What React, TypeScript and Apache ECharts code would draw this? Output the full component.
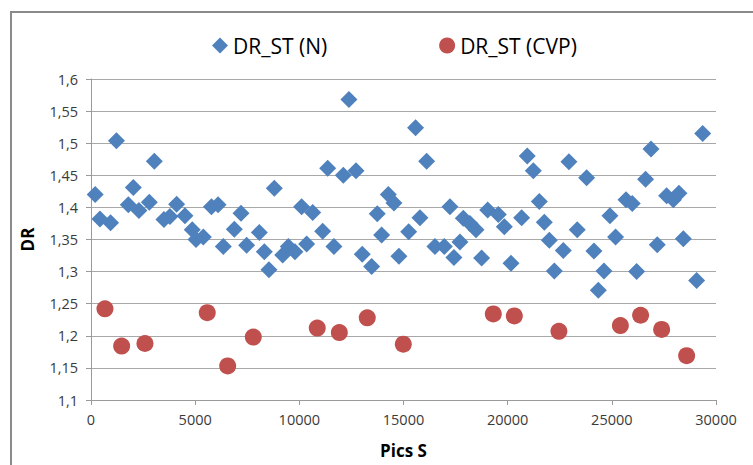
import React, { useEffect, useRef } from "react";
import * as echarts from "echarts";

const nSeriesName = "DR_ST (N)";
const cvpSeriesName = "DR_ST (CVP)";
const xTitle = "Pics S";
const yTitle = "DR";

const nX = [200, 430, 940, 1220, 1790, 2030, 2300, 2800, 3040, 3500, 3790, 4110, 4510, 4860, 5040, 5390, 5780, 6100, 6350, 6880, 7200, 7470, 8080, 8320, 8540, 8800, 9200, 9470, 9790, 10110, 10350, 10640, 11120, 11360, 11660, 12110, 12380, 12720, 13020, 13470, 13740, 13950, 14270, 14540, 14780, 15250, 15580, 15790, 16110, 16510, 16960, 17230, 17420, 17710, 17870, 18190, 18480, 18750, 19040, 19550, 19840, 20160, 20670, 20940, 21230, 21520, 21760, 22000, 22240, 22670, 22940, 23340, 23790, 24140, 24350, 24620, 24910, 25180, 25680, 25980, 26190, 26620, 26880, 27180, 27630, 27950, 28220, 28430, 29070, 29360];
const nY = [1.42, 1.382, 1.376, 1.504, 1.404, 1.431, 1.395, 1.408, 1.472, 1.381, 1.386, 1.405, 1.387, 1.365, 1.35, 1.354, 1.401, 1.404, 1.339, 1.366, 1.391, 1.341, 1.361, 1.331, 1.303, 1.43, 1.326, 1.339, 1.331, 1.401, 1.343, 1.392, 1.363, 1.461, 1.339, 1.45, 1.568, 1.457, 1.327, 1.308, 1.39, 1.357, 1.42, 1.407, 1.324, 1.362, 1.524, 1.384, 1.472, 1.339, 1.339, 1.401, 1.322, 1.346, 1.383, 1.375, 1.365, 1.321, 1.396, 1.389, 1.37, 1.313, 1.384, 1.48, 1.457, 1.409, 1.377, 1.349, 1.301, 1.333, 1.471, 1.365, 1.446, 1.332, 1.271, 1.301, 1.387, 1.354, 1.412, 1.406, 1.3, 1.444, 1.491, 1.342, 1.418, 1.412, 1.422, 1.351, 1.286, 1.515];

const cvpX = [670, 1470, 2590, 5580, 6560, 7790, 10860, 11920, 13260, 14990, 19310, 20320, 22460, 25410, 26380, 27390, 28590];
const cvpY = [1.242, 1.184, 1.188, 1.236, 1.153, 1.198, 1.212, 1.205, 1.228, 1.187, 1.234, 1.231, 1.207, 1.216, 1.232, 1.21, 1.169];

const xMin = 0;
const xMax = 30000;
const xStep = 5000;
const yMin = 1.1;
const yMax = 1.6;
const yStep = 0.05;

const FONT = "'Open Sans', sans-serif";

export default function App() {
  const ref = useRef<HTMLDivElement>(null);

  useEffect(() => {
    if (!ref.current) return;
    const chart = echarts.init(ref.current, undefined, { renderer: "svg" });
    const nData = nX.map((x, i) => [x, nY[i]]);
    const cvpData = cvpX.map((x, i) => [x, cvpY[i]]);
    chart.setOption({
      animation: false,
      backgroundColor: "#ffffff",
      textStyle: { fontFamily: FONT },
      graphic: [
        {
          type: "rect",
          shape: { x: 11, y: 12, width: 800, height: 500 },
          style: { fill: "none", stroke: "#8a8a8a", lineWidth: 2 },
          silent: true,
        },
      ],
      legend: {
        left: 207,
        top: 30,
        itemWidth: 16,
        itemHeight: 16,
        itemGap: 112,
        textStyle: { fontSize: 21, color: "#000000", fontFamily: FONT },
        data: [
          { name: nSeriesName, icon: "diamond" },
          { name: cvpSeriesName, icon: "circle" },
        ],
      },
      grid: { left: 91, right: 37, top: 79, bottom: 65 },
      xAxis: {
        type: "value",
        min: xMin,
        max: xMax,
        interval: xStep,
        name: xTitle,
        nameLocation: "middle",
        nameGap: 42,
        nameTextStyle: { fontSize: 17, fontWeight: "bold", color: "#000000", fontFamily: FONT },
        axisLine: { show: true, lineStyle: { color: "#9a9a9a", width: 1 } },
        axisTick: { show: true, length: 5, lineStyle: { color: "#9a9a9a" } },
        axisLabel: {
          fontSize: 14.5,
          color: "#3a3a3a",
          margin: 12,
          fontFamily: FONT,
          formatter: (v: number) => String(Math.round(v)),
        },
        splitLine: { show: false },
      },
      yAxis: {
        type: "value",
        min: yMin,
        max: yMax,
        interval: yStep,
        name: yTitle,
        nameLocation: "middle",
        nameRotate: 90,
        nameGap: 55,
        nameTextStyle: { fontSize: 17, fontWeight: "bold", color: "#000000", fontFamily: FONT },
        axisLine: { show: true, lineStyle: { color: "#9a9a9a", width: 1 } },
        axisTick: { show: true, length: 5, lineStyle: { color: "#9a9a9a" } },
        axisLabel: {
          fontSize: 14.5,
          color: "#3a3a3a",
          margin: 13,
          fontFamily: FONT,
          formatter: (v: number) => String(Math.round(v * 100) / 100).replace(".", ","),
        },
        splitLine: { show: true, lineStyle: { color: "#a8a8a8", width: 1 } },
      },
      series: [
        {
          name: nSeriesName,
          type: "scatter",
          symbol: "diamond",
          symbolSize: 17,
          itemStyle: { color: "#4F81BD", opacity: 1 },
          data: nData,
        },
        {
          name: cvpSeriesName,
          type: "scatter",
          symbol: "circle",
          symbolSize: 17,
          itemStyle: { color: "#C0504D", opacity: 1 },
          data: cvpData,
        },
      ],
    });
    return () => chart.dispose();
  }, []);

  return (
    <div
      ref={ref}
      style={{ position: "fixed", left: 0, top: 0, width: 753, height: 465, background: "#fff" }}
    />
  );
}
